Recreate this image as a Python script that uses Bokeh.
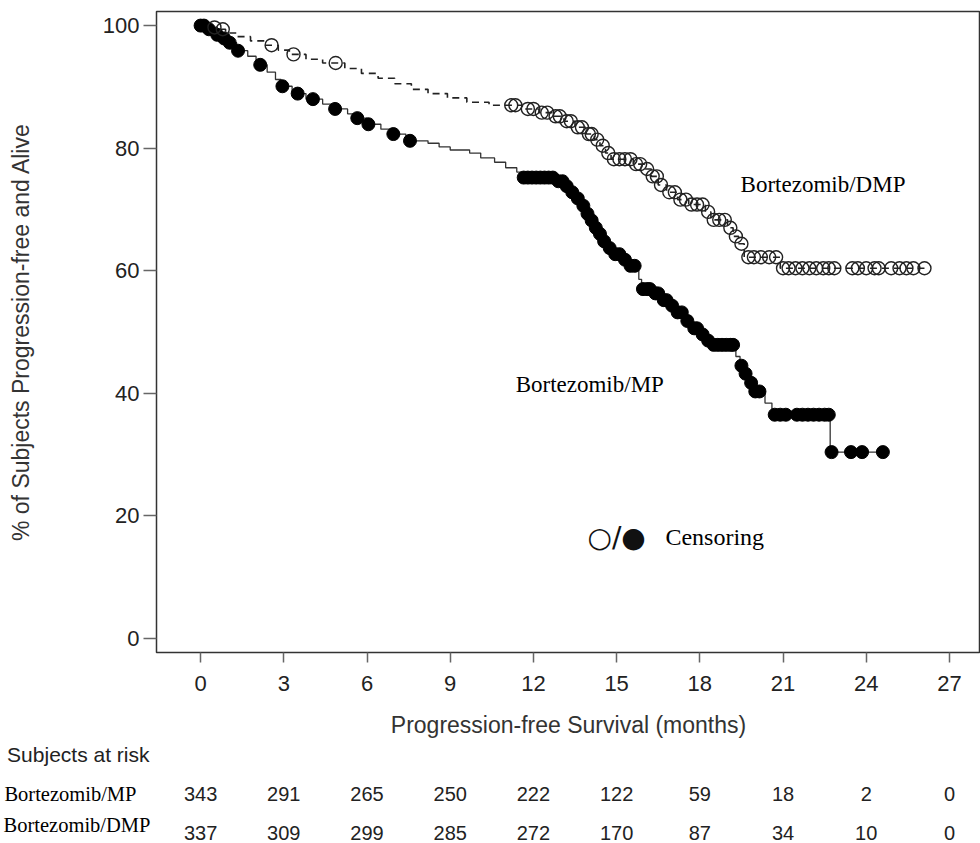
from bokeh.plotting import figure
from bokeh.models import Range1d, FixedTicker, Label, ColumnDataSource
from bokeh.layouts import column
from bokeh.embed import file_html
from bokeh.resources import INLINE
from bokeh.core.properties import value

# ---------------- data ----------------
x_ticks = [0, 3, 6, 9, 12, 15, 18, 21, 24, 27]
y_ticks = [0, 20, 40, 60, 80, 100]

# Bortezomib/DMP (dashed line, open circles)
dmp_t = [0, 0.3, 0.6, 0.9, 1.3, 1.8, 2.3, 2.8, 3.2, 3.8, 4.4, 5.2, 5.8, 6.4, 7.0,
         7.6, 8.2, 8.9, 9.6, 10.4, 11.6, 12.2, 12.7, 13.1, 13.5, 13.9, 14.2, 14.4,
         14.6, 14.8, 15.6, 16.0, 16.25, 16.5, 16.8, 17.2, 17.6, 18.2, 18.4, 19.0,
         19.2, 19.4, 19.6, 20.9, 26.1]
dmp_s = [100, 99.7, 99.4, 98.8, 98.2, 97.5, 96.8, 96.0, 95.3, 94.5, 93.9, 93.0, 92.2,
         91.4, 90.5, 89.6, 88.9, 88.2, 87.5, 87.0, 86.4, 85.8, 85.2, 84.4, 83.4, 82.3,
         81.4, 80.4, 79.2, 78.2, 77.4, 76.6, 75.4, 74.0, 72.8, 71.6, 70.8, 69.6, 68.3,
         67.0, 65.6, 64.4, 62.2, 60.4, 60.4]
dmp_cens_t = [0.5, 0.8, 2.56, 3.35, 4.87, 11.2, 11.35, 11.8, 12.0, 12.3, 12.5, 12.8,
              12.95, 13.2, 13.35, 13.6, 13.75, 14.0, 14.1, 14.3, 14.5, 14.7, 14.9,
              15.1, 15.3, 15.5, 15.7, 15.85, 16.1, 16.3, 16.45, 16.6, 16.9, 17.1,
              17.3, 17.5, 17.7, 17.9, 18.1, 18.3, 18.5, 18.7, 18.9, 19.1, 19.3, 19.5,
              19.75, 19.95, 20.2, 20.5, 20.75, 21.0, 21.2, 21.45, 21.7, 21.95, 22.2,
              22.45, 22.65, 22.85, 23.5, 23.7, 24.0, 24.3, 24.45, 24.9, 25.2, 25.45,
              25.7, 26.1]
dmp_cens_s = [99.7, 99.4, 96.8, 95.3, 93.9, 87.0, 87.0, 86.4, 86.4, 85.8, 85.8, 85.2,
              85.2, 84.4, 84.4, 83.4, 83.4, 82.3, 82.3, 81.4, 80.4, 79.2, 78.2,
              78.2, 78.2, 78.2, 77.4, 77.4, 76.6, 75.4, 75.4, 74.0, 72.8, 72.8,
              71.6, 71.6, 70.8, 70.8, 70.8, 69.6, 68.3, 68.3, 68.3, 67.0, 65.6, 64.4,
              62.2, 62.2, 62.2, 62.2, 62.2, 60.4, 60.4, 60.4, 60.4, 60.4, 60.4,
              60.4, 60.4, 60.4, 60.4, 60.4, 60.4, 60.4, 60.4, 60.4, 60.4, 60.4,
              60.4, 60.4]

# Bortezomib/MP (solid line, filled circles)
mp_t = [0, 0.2, 0.5, 0.75, 1.0, 1.3, 1.7, 2.0, 2.4, 2.7, 2.9, 3.3, 3.8, 4.4, 4.8, 5.3,
        5.6, 6.0, 6.5, 6.9, 7.4, 8.2, 8.6, 9.0, 9.7, 10.1, 10.6, 11.0, 11.4, 11.6,
        12.8, 13.1, 13.3, 13.5, 13.7, 13.9, 14.05, 14.2, 14.35, 14.5, 14.7, 14.9,
        15.2, 15.4, 15.8, 15.9, 16.3, 16.6, 16.9, 17.1, 17.5, 17.7, 18.0, 18.2, 18.4,
        19.3, 19.45, 19.6, 19.8, 19.95, 20.35, 20.6, 22.7, 24.6]
mp_s = [100, 99.4, 98.5, 97.9, 97.2, 95.9, 95.0, 93.6, 92.4, 91.2, 90.1, 88.9, 88.0,
        87.2, 86.4, 85.6, 84.9, 83.9, 83.1, 82.3, 81.2, 80.8, 80.2, 79.7, 79.2, 78.4,
        77.7, 76.8, 76.1, 75.2, 74.6, 73.8, 72.8, 71.8, 70.6, 69.3, 68.2, 67.0, 66.0,
        64.8, 63.7, 62.7, 61.8, 60.8, 58.6, 57.0, 56.3, 55.2, 54.3, 53.2, 51.8, 50.6,
        49.6, 48.6, 47.9, 46.0, 44.5, 43.2, 41.7, 40.3, 38.4, 36.5, 30.4, 30.4]
mp_cens_t = [0, 0.12, 0.3, 0.6, 0.85, 1.05, 1.35, 2.15, 2.95, 3.5, 4.05, 4.85, 5.65,
             6.05, 6.95, 7.55, 11.65, 11.8, 11.95, 12.1, 12.25, 12.4, 12.55, 12.7,
             12.9, 13.05, 13.2, 13.4, 13.6, 13.8, 13.95, 14.1, 14.25, 14.4, 14.55,
             14.75, 14.95, 15.1, 15.3, 15.5, 15.65, 15.95, 16.1, 16.2, 16.4, 16.5,
             16.7, 16.8, 17.0, 17.2, 17.35, 17.55, 17.8, 17.9, 18.1, 18.3, 18.5,
             18.65, 18.8, 18.95, 19.1, 19.2, 19.5, 19.65, 19.85, 20.0, 20.15, 20.7,
             20.9, 21.1, 21.5, 21.7, 21.9, 22.1, 22.3, 22.5, 22.65, 22.75, 23.45,
             23.85, 24.6]
mp_cens_s = [100, 100, 99.4, 98.5, 97.9, 97.2, 95.9, 93.6, 90.1, 88.9, 88.0, 86.4, 84.9,
             83.9, 82.3, 81.2, 75.2, 75.2, 75.2, 75.2, 75.2, 75.2, 75.2, 75.2,
             74.6, 74.6, 73.8, 72.8, 71.8, 70.6, 69.3, 68.2, 67.0, 66.0, 64.8,
             63.7, 62.7, 62.7, 61.8, 60.8, 60.8, 57.0, 57.0, 57.0, 56.3, 56.3,
             55.2, 55.2, 54.3, 53.2, 53.2, 51.8, 50.6, 50.6, 49.6, 48.6, 47.9,
             47.9, 47.9, 47.9, 47.9, 47.9, 44.5, 43.2, 41.7, 40.3, 40.3, 36.5,
             36.5, 36.5, 36.5, 36.5, 36.5, 36.5, 36.5, 36.5, 36.5, 30.4, 30.4,
             30.4, 30.4]

risk_months = [0, 3, 6, 9, 12, 15, 18, 21, 24, 27]
risk_mp = [343, 291, 265, 250, 222, 122, 59, 18, 2, 0]
risk_dmp = [337, 309, 299, 285, 272, 170, 87, 34, 10, 0]
risk_title = "Subjects at risk"
risk_groups = ["Bortezomib/MP", "Bortezomib/DMP"]

# ---------------- main figure ----------------
SANS = "Liberation Sans"
SERIF = "Liberation Serif"
W = 980
LEFT = 156

p = figure(width=W, height=741, output_backend="svg", toolbar_location=None,
           x_range=Range1d(-1.59, 28.12), y_range=Range1d(-2.3, 102.3),
           min_border_left=LEFT, min_border_right=0, min_border_top=11,
           min_border_bottom=89)
p.grid.visible = False
p.outline_line_color = "#333333"
p.outline_line_width = 1.5
p.background_fill_color = "white"
p.border_fill_color = "white"

p.xaxis.ticker = FixedTicker(ticks=x_ticks)
p.yaxis.ticker = FixedTicker(ticks=y_ticks)
for ax in (p.xaxis[0], p.yaxis[0]):
    ax.axis_line_color = None
    ax.major_tick_line_color = "#666666"
    ax.major_tick_line_width = 1.5
    ax.minor_tick_line_color = None
    ax.major_tick_in = 0
    ax.major_label_text_font = SANS
    ax.major_label_text_font_size = "22px"
    ax.major_label_text_color = "#222222"
    ax.axis_label_text_font = SANS
    ax.axis_label_text_font_size = "23px"
    ax.axis_label_text_font_style = "normal"
    ax.axis_label_text_color = "#333333"

p.xaxis.major_tick_out = 10
p.xaxis.major_label_standoff = 13
p.xaxis.axis_label = "Progression-free Survival (months)"
p.xaxis.axis_label_standoff = 18

p.yaxis.major_tick_out = 13
p.yaxis.major_label_standoff = 4
p.yaxis.axis_label = "% of Subjects Progression-free and Alive"
p.yaxis.axis_label_standoff = 66

p.step(dmp_t, dmp_s, mode="after", line_color="#222222", line_width=1.6,
       line_dash="7 5")
p.step(mp_t, mp_s, mode="after", line_color="#333333", line_width=1.3)

p.scatter(mp_cens_t, mp_cens_s, marker="circle", size=13, fill_color="black",
          line_color="black")
p.scatter(dmp_cens_t, dmp_cens_s, marker="circle", size=13, fill_color=None,
          line_color="#222222", line_width=1.4)

p.add_layout(Label(x=19.47, y=74.1, text="Bortezomib/DMP", text_font=SERIF,
                   text_font_size="23px", text_baseline="middle", text_color="black"))
p.add_layout(Label(x=11.36, y=41.4, text="Bortezomib/MP", text_font=SERIF,
                   text_font_size="23px", text_baseline="middle", text_color="black"))
p.add_layout(Label(x=13.95, y=16.4, text="○/●", text_font="DejaVu Sans",
                   text_font_size="28px", text_baseline="middle", text_color="#111111"))
p.add_layout(Label(x=16.76, y=16.6, text="Censoring", text_font=SERIF,
                   text_font_size="24px", text_baseline="middle", text_color="black"))


# ---------------- risk table strips ----------------
def strip(height, label, label_y, font, size, standoff, counts=None, count_y=None):
    f = figure(width=W, height=height, output_backend="svg", toolbar_location=None,
               x_range=p.x_range, y_range=Range1d(height, 0),
               x_axis_location=None, y_axis_location="left",
               min_border_left=LEFT, min_border_right=0, min_border_top=0,
               min_border_bottom=0)
    f.grid.visible = False
    f.outline_line_color = None
    ax = f.yaxis[0]
    ax.ticker = FixedTicker(ticks=[label_y])
    ax.major_label_overrides = {label_y: label}
    ax.axis_line_color = None
    ax.major_tick_line_color = None
    ax.minor_tick_line_color = None
    ax.major_tick_out = 0
    ax.major_tick_in = 0
    ax.major_label_standoff = standoff
    ax.major_label_text_font = font
    ax.major_label_text_font_size = size
    ax.major_label_text_color = "#222222" if font == SANS else "black"
    if counts is not None:
        src = ColumnDataSource(dict(x=risk_months, n=[str(v) for v in counts],
                                    y=[count_y] * len(risk_months)))
        f.text(x="x", y="y", text="n", source=src, text_font=value(SANS),
               text_font_size="20px", text_align="center", text_baseline="middle",
               text_color="#222222")
    return f


t0 = strip(31, risk_title, 10, SANS, "21px", 7)
t1 = strip(38, risk_groups[0], 21, SERIF, "20.5px", 20, risk_mp, 21)
t2 = strip(32, risk_groups[1], 14, SERIF, "20.5px", 6, risk_dmp, 22)

layout = column(p, t0, t1, t2, spacing=0)
open("out.html", "w").write(file_html(layout, INLINE))
